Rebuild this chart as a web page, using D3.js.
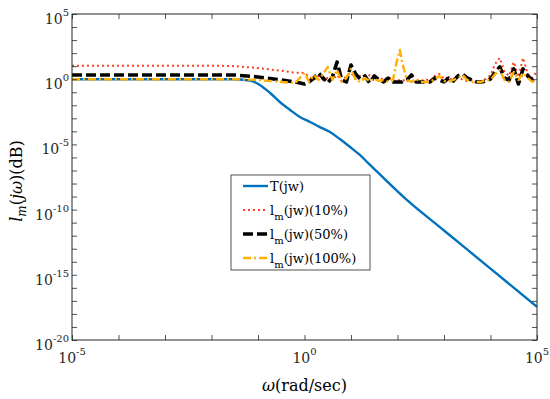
<!DOCTYPE html>
<html>
<head>
<meta charset="utf-8">
<script src="https://cdn.jsdelivr.net/npm/d3@7"></script>
<style>
  body { margin: 0; background: #fff; }
  text { font-family: "DejaVu Serif", serif; }
</style>
</head>
<body>
<div id="chart"></div>
<script>
// frequency exponents (log10 of omega) for the lm curves
const wExp = [-5, -2, -1.5, -1, -0.5, -0.2,
  0, 0.1, 0.2, 0.3, 0.4, 0.5, 0.6, 0.7, 0.8, 0.9, 1.0, 1.1, 1.2, 1.3, 1.4, 1.5, 1.6, 1.7, 1.8, 1.9, 2.0,
  2.05,
  2.1, 2.2, 2.3, 2.4, 2.5, 2.6, 2.7, 2.8, 2.9, 3.0, 3.1, 3.2, 3.3, 3.4, 3.5, 3.6, 3.7, 3.8, 3.9, 4.0,
  4.1, 4.2, 4.3, 4.4, 4.5, 4.6, 4.7, 4.8, 4.9, 5.0];

// log10 of magnitude for each series
const lm10 = [1.04, 1.04, 1.0, 0.85, 0.65, 0.5,
  0.48, 0.17, -0.06, 0.25, -0.06, 0.09, -0.06, 0.32, -0.14, 0.25, 0.48, 0.02, 0.25, -0.14, 0.32, 0.02, 0.17, -0.06, 0.17, -0.14, -0.06,
  -0.1,
  -0.14, 0.02, -0.14, -0.06, -0.14, 0.02, -0.14, 0.25, 0.4, 0.02, 0.17, -0.14, 0.25, -0.06, -0.14, -0.06, -0.21, -0.14, 0.02, 0.32,
  1.17, 1.63, 0.56, 0.25, 1.32, 0.17, 1.63, 0.4, 0.09, 0.63];

const lm50 = [0.32, 0.32, 0.32, 0.17, -0.06, -0.21,
  -0.37, -0.21, 0.09, 0.48, 0.09, -0.29, 0.17, 1.32, -0.06, -0.21, 1.09, 0.4, 0.02, 0.25, -0.29, 0.25, -0.06, -0.21, 0.09, -0.21, -0.21,
  -0.21,
  -0.21, -0.06, 0.32, -0.21, -0.21, -0.21, -0.21, 0.09, -0.06, -0.21, 0.09, -0.14, 0.25, 0.4, 0.09, -0.06, -0.21, -0.21, -0.14, 0.02,
  0.56, 0.94, 0.09, -0.06, 0.79, -0.37, 0.79, 0.25, -0.06, 0.09];

const lm100 = [0, 0, 0, -0.06, -0.21, -0.29,
  0.48, -0.21, 0.32, -0.06, 0.4, 0.94, -0.06, 0.71, -0.21, 0.09, 0.79, -0.06, -0.21, 0.09, -0.14, 0.02, -0.14, -0.06, -0.21, -0.06, 1.6,
  2.24,
  1.3, -0.06, -0.21, 0.02, -0.21, -0.21, -0.21, 0.02, 0.25, -0.14, -0.21, -0.06, 0.09, 0.32, -0.06, -0.21, -0.21, -0.21, -0.06, -0.06,
  0.4, 0.71, -0.06, -0.21, 0.56, -0.06, 0.48, 0.09, -0.21, -0.06];

// T(jw)
const tExpW = [-5, -1.6, -1.17, -0.96, -0.74, -0.53, -0.31, -0.1, 0.12, 0.33, 0.55, 0.76, 0.98, 1.19, 1.37, 2.2, 3, 4, 5];
const tExpM = [0, 0, -0.1, -0.44, -1.06, -1.75, -2.36, -2.9, -3.28, -3.67, -4.05, -4.59, -5.2, -5.81, -6.43, -9.26, -11.6, -14.53, -17.45];

const xTickExp = [-5, 0, 5];
const yTickExp = [5, 0, -5, -10, -15, -20];

const legendLabels = ["T(jw)", "10%", "50%", "100%"];

const W = 550, H = 399;
const margin = { top: 14, right: 13, bottom: 59, left: 72 };
const width = W - margin.left - margin.right,
      height = H - margin.top - margin.bottom;

const svg = d3.select("#chart").append("svg")
    .attr("width", W)
    .attr("height", H);

const x = d3.scaleLog().domain([1e-5, 1e5]).range([0, width]);
const y = d3.scaleLog().domain([1e-20, 1e5]).range([height, 0]);

const g = svg.append("g")
    .attr("transform", `translate(${margin.left},${margin.top})`);

// series
const toPts = (ws, ms) => ws.map((w, i) => [Math.pow(10, w), Math.pow(10, ms[i])]);

const line = d3.line().x(d => x(d[0])).y(d => y(d[1]));
const smooth = d3.line().x(d => x(d[0])).y(d => y(d[1])).curve(d3.curveMonotoneX);

const series = [
  { pts: toPts(tExpW, tExpM), color: "#0072bd", w: 2.4, dash: null, gen: smooth },
  { pts: toPts(wExp, lm10), color: "#ff3f1f", w: 2, dash: "2,3", gen: line },
  { pts: toPts(wExp, lm50), color: "#000000", w: 3.6, dash: "10,4", gen: line },
  { pts: toPts(wExp, lm100), color: "#ffb000", w: 2.4, dash: "8,3,2,3", gen: line }
];

g.append("clipPath").attr("id", "clip")
  .append("rect").attr("width", width).attr("height", height);

g.append("g").attr("clip-path", "url(#clip)")
  .selectAll("path")
  .data(series)
  .join("path")
    .attr("fill", "none")
    .attr("stroke", d => d.color)
    .attr("stroke-width", d => d.w)
    .attr("stroke-dasharray", d => d.dash)
    .attr("stroke-linejoin", "round")
    .attr("d", d => d.gen(d.pts));

// axes, ticks inside on all four sides
const xTicks = d3.range(-5, 6).map(e => Math.pow(10, e));
const yTicks = d3.range(-20, 6).map(e => Math.pow(10, e));
const axisColor = "#262626";

function styleAxis(sel) {
  sel.select(".domain").remove();
  sel.selectAll(".tick line").attr("stroke", axisColor).attr("stroke-width", 0.8);
  sel.selectAll(".tick text").remove();
}

g.append("g").attr("transform", `translate(0,${height})`)
  .call(d3.axisBottom(x).tickValues(xTicks).tickSize(-5).tickFormat(""))
  .call(styleAxis);
g.append("g")
  .call(d3.axisTop(x).tickValues(xTicks).tickSize(-5).tickFormat(""))
  .call(styleAxis);
g.append("g")
  .call(d3.axisLeft(y).tickValues(yTicks).tickSize(-5).tickFormat(""))
  .call(styleAxis);
g.append("g").attr("transform", `translate(${width},0)`)
  .call(d3.axisRight(y).tickValues(yTicks).tickSize(-5).tickFormat(""))
  .call(styleAxis);

g.append("rect")
  .attr("width", width).attr("height", height)
  .attr("fill", "none").attr("stroke", axisColor).attr("stroke-width", 1);

// tick labels with superscripts
xTickExp.forEach(e => {
  const t = g.append("text")
    .attr("x", x(Math.pow(10, e)))
    .attr("y", height + 23)
    .attr("text-anchor", "middle")
    .attr("font-size", 14)
    .attr("fill", "#262626");
  t.append("tspan").text("10");
  t.append("tspan").attr("dy", -8).attr("font-size", 10).text(e < 0 ? "-" + (-e) : e);
});

yTickExp.forEach(e => {
  const t = g.append("text")
    .attr("x", -3)
    .attr("y", y(Math.pow(10, e)) + 10)
    .attr("text-anchor", "end")
    .attr("font-size", 14)
    .attr("fill", "#262626");
  t.append("tspan").text("10");
  t.append("tspan").attr("dy", -8).attr("font-size", 10).text(e < 0 ? "-" + (-e) : e);
});

// axis titles
const xt = svg.append("text")
  .attr("x", margin.left + width / 2)
  .attr("y", 391)
  .attr("text-anchor", "middle")
  .attr("font-size", 16)
  .attr("fill", "#000");
xt.append("tspan").attr("font-style", "italic").text("ω");
xt.append("tspan").text("(rad/sec)");

const yt = svg.append("text")
  .attr("transform", `translate(22,${margin.top + height / 2 + 4}) rotate(-90)`)
  .attr("text-anchor", "middle")
  .attr("font-size", 16)
  .attr("fill", "#000");
yt.append("tspan").attr("font-style", "italic").text("l");
yt.append("tspan").attr("font-style", "italic").attr("font-size", 12).attr("dy", 4).text("m");
yt.append("tspan").attr("dy", -4).text("(");
yt.append("tspan").attr("font-style", "italic").text("jω");
yt.append("tspan").text(")(dB)");

// legend
const lg = svg.append("g").attr("transform", "translate(231,175)");
lg.append("rect")
  .attr("width", 139).attr("height", 95)
  .attr("fill", "#fff").attr("stroke", axisColor).attr("stroke-width", 0.8);

series.forEach((s, i) => {
  const yy = 11 + i * 24;
  lg.append("line")
    .attr("x1", 12).attr("x2", 37)
    .attr("y1", yy).attr("y2", yy)
    .attr("stroke", s.color)
    .attr("stroke-width", s.w)
    .attr("stroke-dasharray", s.dash);
  const t = lg.append("text")
    .attr("x", 39).attr("y", yy + 5)
    .attr("font-size", 13)
    .attr("fill", "#000");
  if (i === 0) {
    t.text(legendLabels[0]);
  } else {
    t.append("tspan").text("l");
    t.append("tspan").attr("font-size", 10).attr("dy", 5).text("m");
    t.append("tspan").attr("dy", -5).text("(jw)(" + legendLabels[i] + ")");
  }
});
</script>
</body>
</html>
